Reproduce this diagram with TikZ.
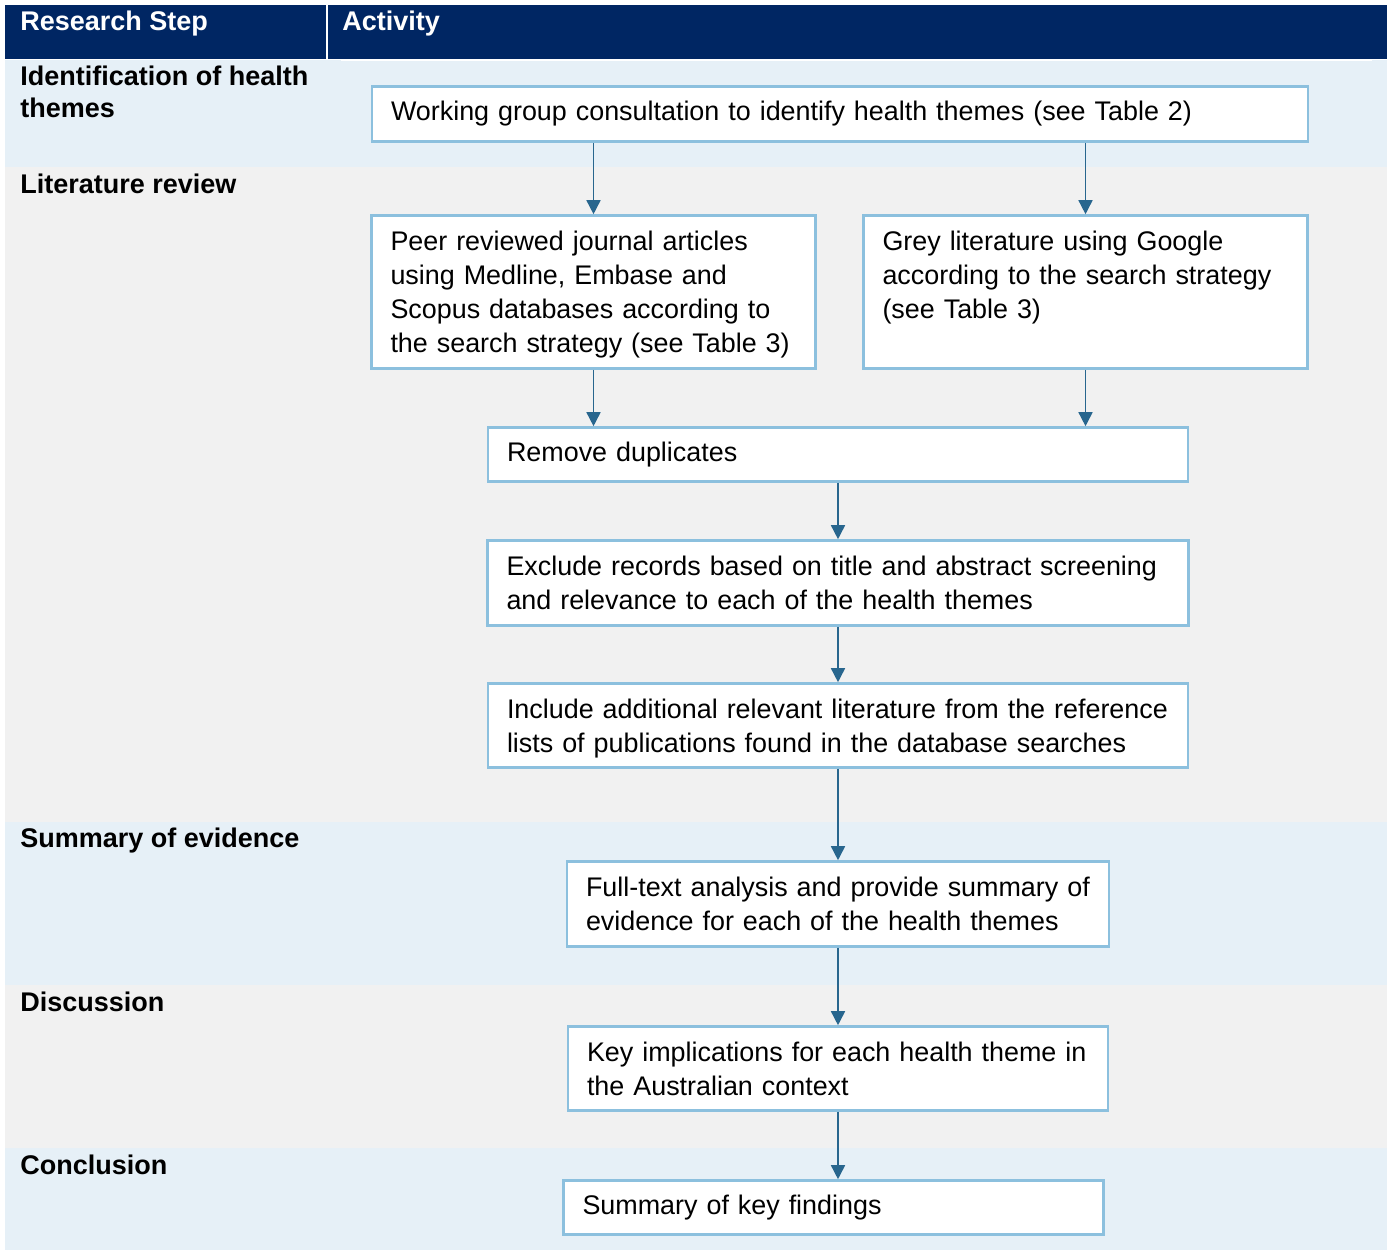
\documentclass[tikz,border=0pt]{standalone}
\usepackage{fontspec}
\setmainfont{Liberation Sans}
\usetikzlibrary{arrows.meta}
\definecolor{headnavy}{RGB}{0,38,99}
\definecolor{rowblue}{RGB}{230,240,247}
\definecolor{rowgray}{RGB}{241,241,241}
\definecolor{edgeblue}{RGB}{140,192,222}
\definecolor{arrblue}{RGB}{40,102,142}
\begin{document}
\begin{tikzpicture}[x=0.5pt, y=-0.5pt,
box/.style={draw=edgeblue, line width=1.3pt, fill=white, align=left,
  inner xsep=9.5pt, inner ysep=0pt, font=\fontsize{13.45}{17}\selectfont},
lines/.style={text depth={(#1-1)*17pt}},
lab/.style={anchor=base west, align=left, inner sep=0pt,
  font=\bfseries\fontsize{13.5}{16}\selectfont},
arr/.style={draw=arrblue, line width=0.8pt, -{Triangle[width=7pt,length=7pt]}}]
\useasboundingbox (0,0) rectangle (1390,1251);
% rows
\fill[rowblue] (5,60)    rectangle (1387,167);
\fill[rowgray] (5,167)   rectangle (1387,822);
\fill[rowblue] (5,822)   rectangle (1387,985);
\fill[rowgray] (5,985)   rectangle (1387,1148);
\fill[rowblue] (5,1148)  rectangle (1387,1250);
\fill[headnavy] (5,5)    rectangle (326,59);
\fill[headnavy] (328,5)  rectangle (1387,59);
\fill[white] (341,59) rectangle (1372,61);
%
\node[lab, text=white] (hstep) at (20,31)  {Research Step};
\node[lab, text=white] (hact)  at (342,31) {Activity};
\node[lab] (ident) at (20,118)  {Identification of health\\themes};
\node[lab] (lit)   at (20,194)  {Literature review};
\node[lab] (summ)  at (20,847)  {Summary of evidence};
\node[lab] (disc)  at (20,1011) {Discussion};
\node[lab] (concl) at (20,1174) {Conclusion};
%
\node[box, text width=449pt, minimum height=27.5pt] (consult) at (840,114)
  {Working group consultation to identify health themes (see Table 2)};
\node[box, lines=4, text width=203pt, minimum height=76.5pt] (peer) at (593.5,292)
  {Peer reviewed journal articles\\using Medline, Embase and\\Scopus databases according to\\the search strategy (see Table 3)};
\node[box, lines=4, text width=203pt, minimum height=76.5pt] (grey) at (1085.5,292)
  {Grey literature using Google\\according to the search strategy\\(see Table 3)\\\mbox{}};
\node[box, text width=331pt, minimum height=27pt] (dupl) at (838,454.5)
  {Remove duplicates};
\node[box, lines=2, text width=331.5pt, minimum height=42.5pt] (screen) at (838,583)
  {Exclude records based on title and abstract screening\\and relevance to each of the health themes};
\node[box, lines=2, text width=331pt, minimum height=42pt] (addlit) at (838,725.5)
  {Include additional relevant literature from the reference\\lists of publications found in the database searches};
\node[box, lines=2, text width=252pt, minimum height=42.5pt] (fulltext) at (838,904)
  {Full-text analysis and provide summary of\\evidence for each of the health themes};
\node[box, lines=2, text width=251pt, minimum height=42pt] (implic) at (838,1068.5)
  {Key implications for each health theme in\\the Australian context};
\node[box, text width=251pt, minimum height=27pt] (keyfind) at (833.5,1207.5)
  {Summary of key findings};
%
\draw[arr] (consult.south -| peer) -- (peer);
\draw[arr] (consult.south -| grey) -- (grey);
\draw[arr] (peer) -- (peer |- dupl.north);
\draw[arr] (grey) -- (grey |- dupl.north);
\draw[arr] (dupl) -- (screen);
\draw[arr] (screen) -- (addlit);
\draw[arr] (addlit) -- (fulltext);
\draw[arr] (fulltext) -- (implic);
\draw[arr] (implic) -- (implic |- keyfind.north);
\end{tikzpicture}
\end{document}
